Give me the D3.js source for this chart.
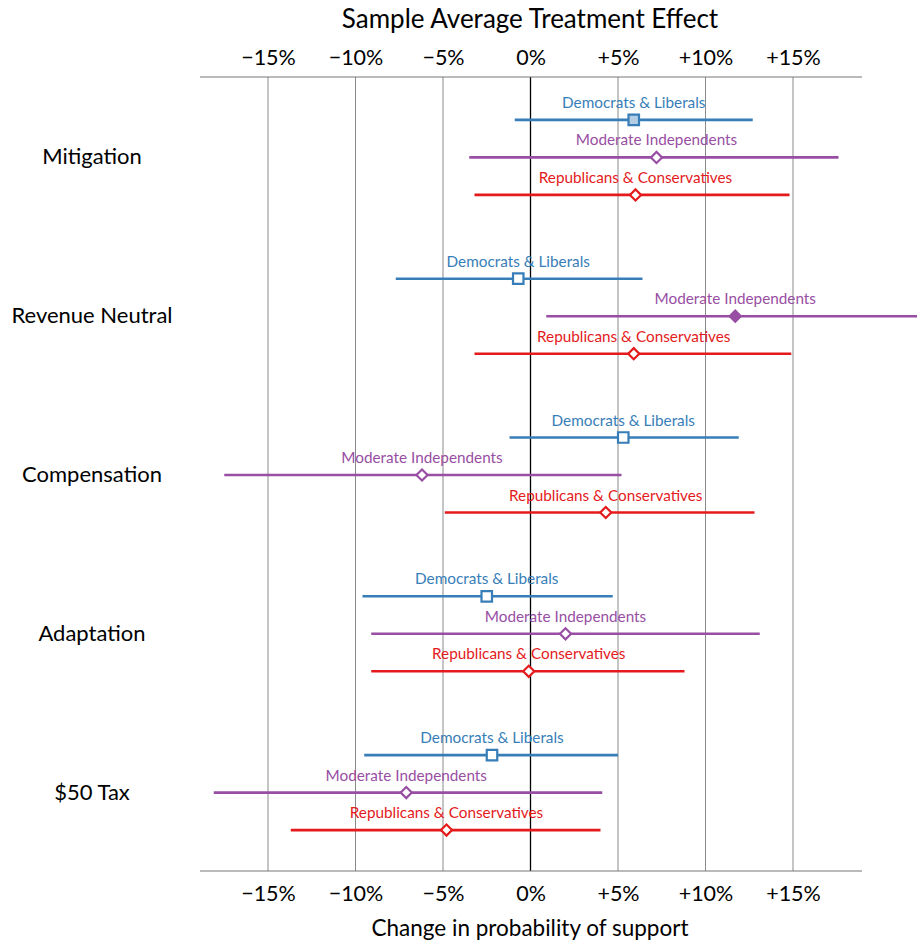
<!DOCTYPE html>
<html>
<head>
<meta charset="utf-8">
<script src="https://cdn.jsdelivr.net/npm/d3@7"></script>
<style>
  html, body { margin: 0; padding: 0; background: #fff; }
  svg { display: block; }
  text { font-family: "Lato", "Open Sans", sans-serif; }
</style>
</head>
<body>
<svg id="chart" width="917" height="944"></svg>
<script>
// Policy framings (rows, top to bottom)
const categories = ["Mitigation", "Revenue Neutral", "Compensation", "Adaptation", "$50 Tax"];
// Partisan groups within each row
const groups = ["Democrats & Liberals", "Moderate Independents", "Republicans & Conservatives"];
const groupColors = ["#377eb8", "#984ea3", "#e41a1c"];
const groupShapes = ["square", "diamond", "diamond"];

// Point estimates (percentage points), one array per group, in category order
const demEstimate = [5.9, -0.7, 5.3, -2.5, -2.2];
const modEstimate = [7.2, 11.7, -6.2, 2.0, -7.1];
const repEstimate = [6.0, 5.9, 4.3, -0.1, -4.8];

// Confidence interval bounds
const demLow  = [-0.9, -7.7, -1.2, -9.6, -9.5];
const demHigh = [12.7, 6.4, 11.9, 4.7, 5.0];
const modLow  = [-3.5, 0.9, -17.5, -9.1, -18.1];
const modHigh = [17.6, 22.5, 5.2, 13.1, 4.1];
const repLow  = [-3.2, -3.2, -4.9, -9.1, -13.7];
const repHigh = [14.8, 14.9, 12.8, 8.8, 4.0];

// Marker fill: "none" = open marker, "light" = tinted fill, "solid" = group colour
const demFill = ["light", "none", "none", "none", "none"];
const modFill = ["none", "solid", "none", "none", "none"];
const repFill = ["none", "none", "none", "none", "none"];

const tickValues = [-15, -10, -5, 0, 5, 10, 15];
const xDomain = [-19, 19];

const estimates = [demEstimate, modEstimate, repEstimate];
const lows = [demLow, modLow, repLow];
const highs = [demHigh, modHigh, repHigh];
const fills = [demFill, modFill, repFill];

const rows = [];
categories.forEach((c, ci) => {
  groups.forEach((g, gi) => {
    rows.push({
      category: c, group: g, gi: gi,
      est: estimates[gi][ci], lo: lows[gi][ci], hi: highs[gi][ci],
      fill: fills[gi][ci]
    });
  });
});

const svg = d3.select("#chart");
const plotLeft = 198, plotRight = 863, plotTop = 77, plotBottom = 871;

const x = d3.scaleLinear().domain(xDomain).range([plotLeft, plotRight]);
const yCat = d3.scaleBand().domain(categories).range([78, 872]).paddingInner(0).paddingOuter(0);
const yGrp = d3.scalePoint().domain(groups).range([-37.5, 37.5]);
const yPos = d => yCat(d.category) + yCat.bandwidth() / 2 + yGrp(d.group);

const fmt = v => v === 0 ? "0%" : (v > 0 ? "+" + v + "%" : "\u2212" + Math.abs(v) + "%");

// Vertical reference lines
svg.append("g").selectAll("line")
  .data(tickValues)
  .join("line")
  .attr("x1", d => x(d)).attr("x2", d => x(d))
  .attr("y1", plotTop).attr("y2", plotBottom)
  .attr("stroke", d => d === 0 ? "#000" : "#8a8a8a")
  .attr("stroke-width", d => d === 0 ? 1.3 : 1);

// Top and bottom axes
const topAxis = d3.axisTop(x).tickValues(tickValues).tickFormat(fmt).tickSize(0).tickPadding(12);
const bottomAxis = d3.axisBottom(x).tickValues(tickValues).tickFormat(fmt).tickSize(0).tickPadding(15);

const gTop = svg.append("g").attr("transform", `translate(0,${plotTop})`).call(topAxis);
const gBot = svg.append("g").attr("transform", `translate(0,${plotBottom})`).call(bottomAxis);
[gTop, gBot].forEach(g => {
  g.select(".domain").attr("stroke", "#777").attr("stroke-width", 1.2)
    .attr("d", `M${plotLeft + 2},0H${plotRight - 1}`);
  g.selectAll(".tick text").attr("font-size", 21.5).attr("fill", "#000")
    .style("font-family", "Lato, sans-serif");
});

// Axis titles
svg.append("text").attr("x", 530).attr("y", 28).attr("text-anchor", "middle")
  .attr("font-size", 26).attr("fill", "#000").text("Sample Average Treatment Effect");
svg.append("text").attr("x", 530).attr("y", 936).attr("text-anchor", "middle")
  .attr("font-size", 22.5).attr("fill", "#000").text("Change in probability of support");

// Row labels
svg.append("g").selectAll("text")
  .data(categories)
  .join("text")
  .attr("x", 92)
  .attr("y", d => yCat(d) + yCat.bandwidth() / 2 + 7)
  .attr("text-anchor", "middle")
  .attr("font-size", 22)
  .attr("fill", "#000")
  .text(d => d);

// Confidence intervals
const marks = svg.append("g");
marks.selectAll("line.ci")
  .data(rows)
  .join("line")
  .attr("class", "ci")
  .attr("x1", d => x(d.lo)).attr("x2", d => x(d.hi))
  .attr("y1", yPos).attr("y2", yPos)
  .attr("stroke", d => groupColors[d.gi])
  .attr("stroke-width", 2.6);

// Group labels above each interval
marks.selectAll("text.lab")
  .data(rows)
  .join("text")
  .attr("class", "lab")
  .attr("x", d => x(d.est))
  .attr("y", d => yPos(d) - 12)
  .attr("text-anchor", "middle")
  .attr("font-size", 15.3)
  .attr("fill", d => groupColors[d.gi])
  .text(d => d.group);

// Point estimate markers
const lightFill = ["#b3cde3", "#decbe4", "#fbb4ae"];
const fillColor = d => d.fill === "solid" ? groupColors[d.gi]
  : d.fill === "light" ? lightFill[d.gi] : "#fff";
const symSquare = d3.symbol().type(d3.symbolSquare).size(110);
const symDiamond = d3.symbol().type(d3.symbolSquare).size(62);

marks.selectAll("path.pt")
  .data(rows)
  .join("path")
  .attr("class", "pt")
  .attr("d", d => groupShapes[d.gi] === "square" ? symSquare() : symDiamond())
  .attr("transform", d => `translate(${x(d.est)},${yPos(d)})` +
    (groupShapes[d.gi] === "diamond" ? " rotate(45)" : ""))
  .attr("fill", fillColor)
  .attr("stroke", d => groupColors[d.gi])
  .attr("stroke-width", 2.2);
</script>
</body>
</html>
